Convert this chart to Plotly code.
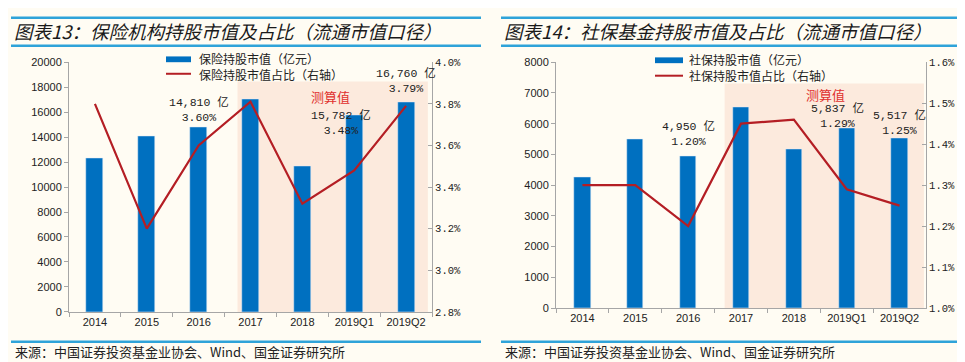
import plotly.graph_objects as go

W, H = 965, 362

categories = ["2014", "2015", "2016", "2017", "2018", "2019Q1", "2019Q2"]

# Chart 13: insurance holdings
ins_value = [12300, 14100, 14810, 17050, 11650, 15782, 16760]   # 亿元
ins_share = [3.80, 3.20, 3.60, 3.81, 3.32, 3.48, 3.79]            # %

# Chart 14: social security fund holdings
ssf_value = [4250, 5480, 4950, 6520, 5170, 5837, 5517]           # 亿元
ssf_share = [1.30, 1.30, 1.20, 1.45, 1.46, 1.29, 1.25]            # %

title_left = "图表13：保险机构持股市值及占比（流通市值口径）"
title_right = "图表14：社保基金持股市值及占比（流通市值口径）"
legend_left = ["保险持股市值（亿元）", "保险持股市值占比（右轴）"]
legend_right = ["社保持股市值（亿元）", "社保持股市值占比（右轴）"]
source_text = "来源：中国证券投资基金业协会、Wind、国金证券研究所"
est_text = "测算值"

BAR = "#0070C0"
LINE = "#B41E24"
BG = "#FFFCF3"
SHADE = "#FCEADD"
RULE = "#2FA3D9"
AXIS = "#A6A6A6"
CJK = "Noto Sans CJK SC"
NUM = "Liberation Sans, Arial, sans-serif"
MONO = "Liberation Mono, Noto Sans CJK SC, monospace"


def px(x):
    return x / W


def py(y):
    return (H - y) / H


fig = go.Figure()

fig.add_trace(go.Bar(x=categories, y=ins_value, marker_color=BAR, width=0.33,
                     xaxis="x", yaxis="y", name=legend_left[0], showlegend=False))
fig.add_trace(go.Scatter(x=categories, y=ins_share, mode="lines",
                         line=dict(color=LINE, width=2.2),
                         xaxis="x", yaxis="y2", name=legend_left[1], showlegend=False))
fig.add_trace(go.Bar(x=categories, y=ssf_value, marker_color=BAR, width=0.31,
                     xaxis="x3", yaxis="y3", name=legend_right[0], showlegend=False))
fig.add_trace(go.Scatter(x=categories, y=ssf_share, mode="lines",
                         line=dict(color=LINE, width=2.2),
                         xaxis="x3", yaxis="y4", name=legend_right[1], showlegend=False))

tickfont = dict(family=NUM, size=11, color="#222222")
pctfont = dict(family=MONO, size=10.5, color="#222222")

xcommon = dict(type="category", range=[-0.5, 6.5], tickson="boundaries",
               ticks="outside", ticklen=4, tickcolor=AXIS, showline=True,
               linecolor=AXIS, linewidth=1, showgrid=False, zeroline=False,
               tickfont=tickfont, fixedrange=True)
ycommon = dict(showline=True, linecolor=AXIS, linewidth=1, showgrid=False,
               zeroline=False, tickcolor=AXIS, ticklen=4)

fig.update_layout(
    width=W, height=H, margin=dict(l=0, r=0, t=0, b=0),
    paper_bgcolor=BG, plot_bgcolor="rgba(0,0,0,0)",
    showlegend=False, bargap=0,
    xaxis=dict(domain=[px(61), px(424)], anchor="y", **xcommon),
    yaxis=dict(domain=[py(309), py(50)], range=[0, 20000], dtick=2000,
               tickformat="d", ticks="outside", tickfont=tickfont, **ycommon),
    yaxis2=dict(overlaying="y", side="right", anchor="x", range=[2.8, 4.0],
                dtick=0.2, tickformat=".1f", ticksuffix="%", ticks="inside",
                tickfont=pctfont, **ycommon),
    xaxis3=dict(domain=[px(548), px(918)], anchor="y3", **xcommon),
    yaxis3=dict(domain=[py(305), py(50)], range=[0, 8000], dtick=1000,
                tickformat="d", ticks="outside", anchor="x3", tickfont=tickfont,
                **ycommon),
    yaxis4=dict(overlaying="y3", side="right", anchor="x3", range=[1.0, 1.6],
                dtick=0.1, tickformat=".1f", ticksuffix="%", ticks="inside",
                tickfont=pctfont, **ycommon),
)

shapes = []
# shaded "estimate" regions
shapes.append(dict(type="rect", xref="x", yref="y", x0=2.75, x1=6.42, y0=0,
                   y1=18450, fillcolor=SHADE, line_width=0, layer="below"))
shapes.append(dict(type="rect", xref="x3", yref="y3", x0=2.69, x1=6.46, y0=0,
                   y1=7310, fillcolor=SHADE, line_width=0, layer="below"))
# header / footer rules
for (a, b) in [(3, 473), (493, 962)]:
    for yy in (4, 33, 340):
        shapes.append(dict(type="line", xref="paper", yref="paper",
                           x0=px(a), x1=px(b), y0=py(yy), y1=py(yy),
                           line=dict(color=RULE, width=2.5)))
# legend keys
for (x0, x1, yb, yl) in [(158, 183, 47, 62), (647, 675, 48, 64)]:
    shapes.append(dict(type="rect", xref="paper", yref="paper", x0=px(x0), x1=px(x1),
                       y0=py(yb + 3), y1=py(yb - 3), fillcolor=BAR, line_width=0))
    shapes.append(dict(type="line", xref="paper", yref="paper", x0=px(x0), x1=px(x1),
                       y0=py(yl), y1=py(yl), line=dict(color=LINE, width=2)))
fig.update_layout(shapes=shapes)

ann = []
def text(x, y, s, size=12, color="#222222", xanchor="left", xref="paper",
         family=CJK, align="left", **kw):
    ann.append(dict(x=x, y=y, xref=xref, yref="paper", text=s, showarrow=False,
                    xanchor=xanchor, yanchor="middle", align=align,
                    font=dict(family=family, size=size, color=color, **kw)))

# titles
text(px(4), py(18), title_left, size=18.5, color="#1a1a1a", style="italic")
text(px(494), py(18), title_right, size=18.5, color="#1a1a1a", style="italic")
# sources
text(px(5), py(350), source_text, size=13)
text(px(495), py(350), source_text, size=13)
# legends (two rows in one text block)
text(px(189), py(54.5), "<br>".join(legend_left))
text(px(679), py(56), "<br>".join(legend_right))
# estimate labels
text(4.55, py(86), est_text, size=13, color="#E0302E", xanchor="center", xref="x")
text(4.59, py(84), est_text, size=13, color="#E0302E", xanchor="center", xref="x3")

# value labels (two lines each)
left_labels = [(2, 2.0, 100), (5, 4.74, 113), (6, 6.0, 70)]
for i, xpos, yc in left_labels:
    text(xpos, py(yc), f"{ins_value[i]:,} 亿<br>{ins_share[i]:.2f}%",
         size=11.5, family=MONO, xanchor="center", xref="x", align="center")
right_labels = [(2, 2.0, 124), (5, 4.83, 106), (6, 6.0, 113)]
for i, xpos, yc in right_labels:
    text(xpos, py(yc), f"{ssf_value[i]:,} 亿<br>{ssf_share[i]:.2f}%",
         size=11.5, family=MONO, xanchor="center", xref="x3", align="center")

fig.update_layout(annotations=ann)

fig.write_html("out.html")
